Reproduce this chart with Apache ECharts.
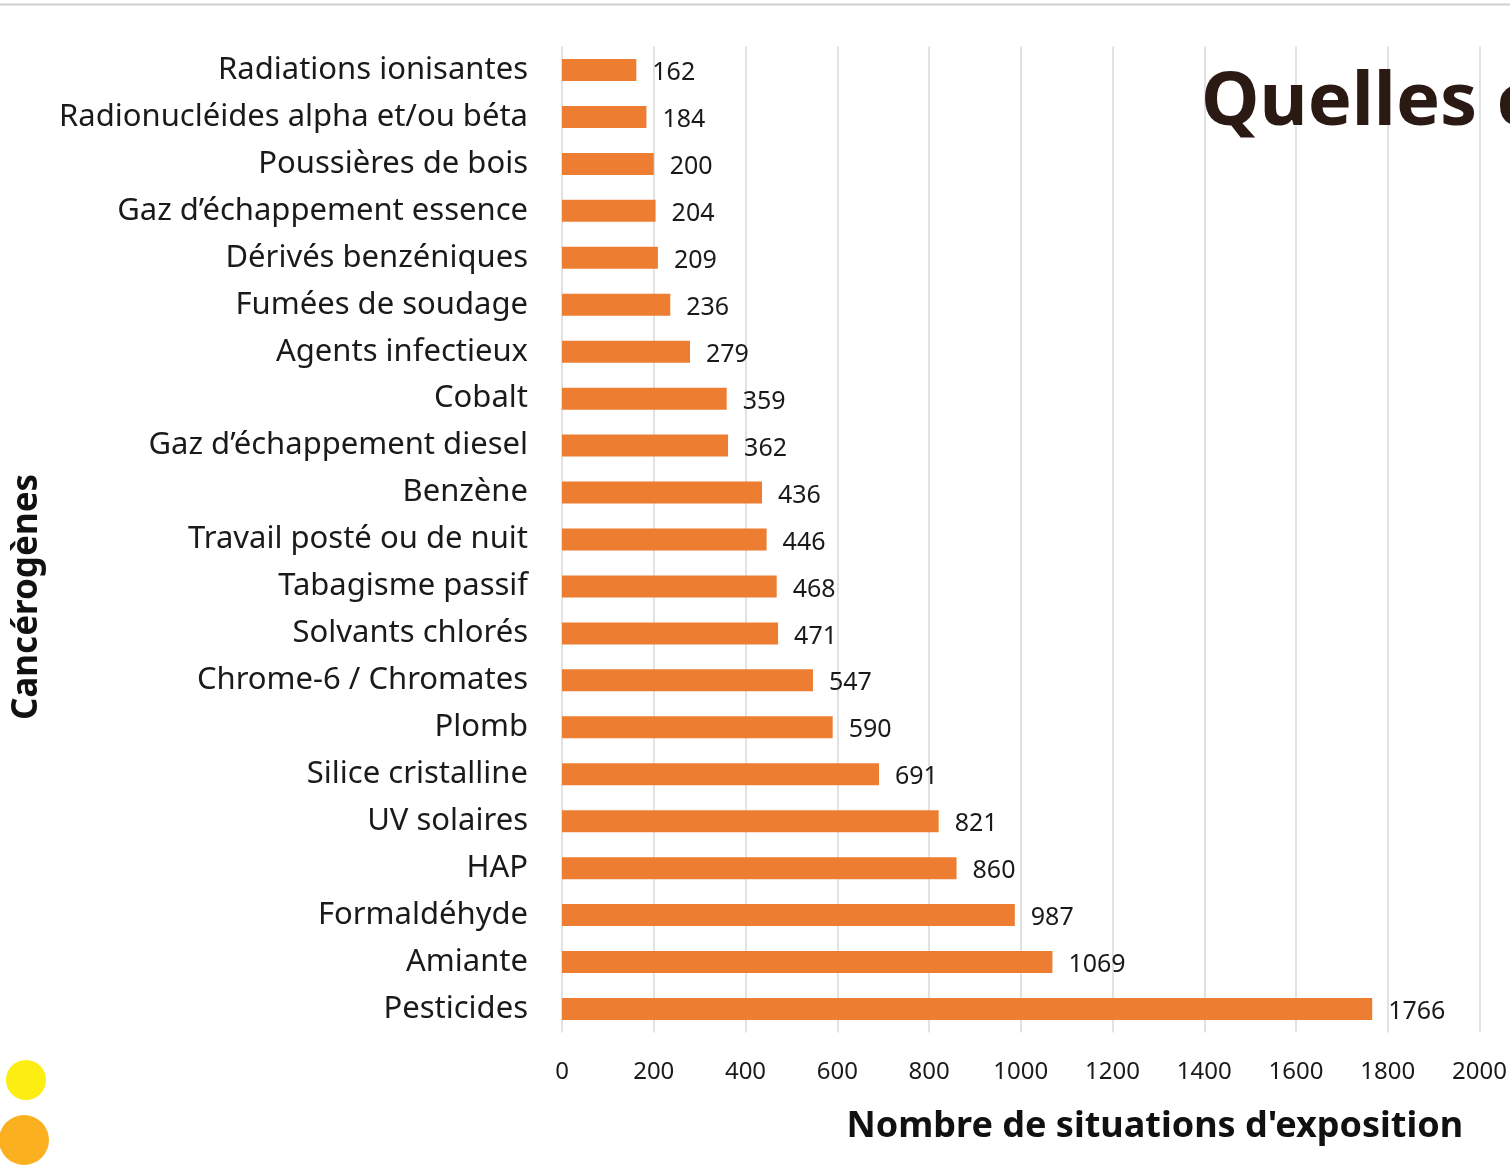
<!DOCTYPE html>
<html>
<head>
<meta charset="utf-8">
<script src="https://cdn.jsdelivr.net/npm/echarts@6/dist/echarts.min.js"></script>
<style>
html,body{margin:0;padding:0;background:#fff;}
#chart{width:1510px;height:1168px;}
</style>
</head>
<body>
<div id="chart"></div>
<script>
// Categories top to bottom
var categories = [
  "Radiations ionisantes",
  "Radionucléides alpha et/ou béta",
  "Poussières de bois",
  "Gaz d’échappement essence",
  "Dérivés benzéniques",
  "Fumées de soudage",
  "Agents infectieux",
  "Cobalt",
  "Gaz d’échappement diesel",
  "Benzène",
  "Travail posté ou de nuit",
  "Tabagisme passif",
  "Solvants chlorés",
  "Chrome-6 / Chromates",
  "Plomb",
  "Silice cristalline",
  "UV solaires",
  "HAP",
  "Formaldéhyde",
  "Amiante",
  "Pesticides"
];
var values = [162, 184, 200, 204, 209, 236, 279, 359, 362, 436, 446, 468, 471, 547, 590, 691, 821, 860, 987, 1069, 1766];
var xTicks = [0, 200, 400, 600, 800, 1000, 1200, 1400, 1600, 1800, 2000];

var chart = echarts.init(document.getElementById('chart'), null, {renderer: 'canvas'});
var FONT = '"Noto Sans", "Open Sans", sans-serif';
chart.setOption({
  backgroundColor: '#ffffff',
  animation: false,
  title: [{
    text: 'Quelles c',
    left: 1196,
    top: 62,
    textStyle: {fontFamily: FONT, fontWeight: 'bold', fontSize: 74, color: '#2b1a14'}
  }],
  grid: {left: 562, right: 28, top: 46.5, bottom: 135.5, containLabel: false},
  xAxis: {
    type: 'value',
    min: xTicks[0],
    max: xTicks[xTicks.length - 1],
    interval: 200,
    axisLine: {show: false},
    axisTick: {show: false},
    splitLine: {show: true, lineStyle: {color: '#d9d9d9', width: 1.5}},
    axisLabel: {fontFamily: FONT, fontSize: 24, color: '#1a1a1a', margin: 28,
      formatter: function (v) { return String(v); }},
    name: 'Nombre de situations d\'exposition',
    nameLocation: 'middle',
    nameGap: 76,
    nameTextStyle: {fontFamily: FONT, fontWeight: 'bold', fontSize: 36, color: '#111', padding: [0, 0, 0, 268]}
  },
  yAxis: {
    type: 'category',
    data: categories,
    inverse: true,
    axisLine: {show: false},
    axisTick: {show: false},
    splitLine: {show: false},
    axisLabel: {fontFamily: FONT, fontSize: 31, color: '#1a1a1a', margin: 34}
  },
  series: [{
    type: 'bar',
    data: values,
    barWidth: 22,
    itemStyle: {color: '#ed7d31'},
    label: {
      show: true,
      position: 'right',
      distance: 16,
      offset: [0, 3],
      fontFamily: FONT,
      fontSize: 25,
      color: '#1a1a1a'
    }
  }],
  graphic: [
    {type: 'line', shape: {x1: 0, y1: 4.5, x2: 1510, y2: 4.5}, style: {stroke: '#d0d0d0', lineWidth: 2}},
    {type: 'text', x: 27, y: 597, rotation: Math.PI / 2,
     style: {text: 'Cancérogènes', fontFamily: FONT, fontWeight: 'bold', fontSize: 35, fill: '#111', align: 'center', verticalAlign: 'middle'}},
    {type: 'circle', shape: {cx: 26, cy: 1080, r: 20}, style: {fill: '#fcee13'}},
    {type: 'circle', shape: {cx: 24, cy: 1140, r: 25}, style: {fill: '#fbb11f'}}
  ]
});
</script>
</body>
</html>
